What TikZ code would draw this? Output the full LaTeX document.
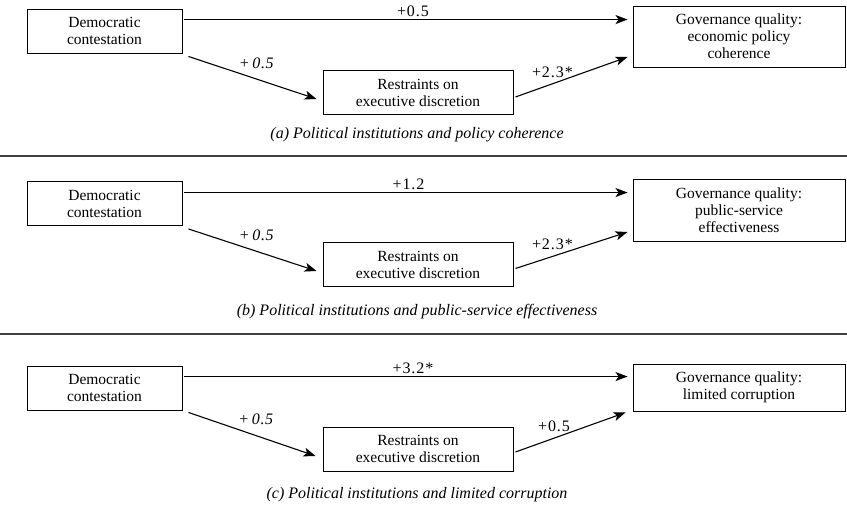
\documentclass[tikz,border=0pt]{standalone}
\usepackage{fontspec}
\setmainfont{Liberation Serif}
\usetikzlibrary{arrows.meta,calc}
\tikzset{
  box/.style={rectangle,draw=black,line width=0.9pt,align=center,inner sep=2pt,
    font=\fontsize{15.5}{17}\selectfont},
  demobox/.style={box,minimum width=155pt,minimum height=44pt},
  restrbox/.style={box,minimum width=190pt,minimum height=44pt},
  govbox/.style={box,minimum width=212pt,minimum height=62pt},
  arrow/.style={-{Stealth[length=12pt,width=9pt,inset=3pt]},draw=black,line width=1.1pt},
  coef/.style={font=\fontsize{16}{18}\selectfont\addfontfeature{LetterSpace=6},inner sep=1pt},
  coefit/.style={font=\fontsize{16}{18}\selectfont\itshape\addfontfeature{LetterSpace=4},inner sep=1pt},
  caption/.style={font=\fontsize{16}{18}\selectfont\itshape},
  rule/.style={draw=black!75,line width=1.3pt},
}

\begin{document}
\begin{tikzpicture}[x=1pt,y=-1pt]

\useasboundingbox (0,0) rectangle (847,505);

% (a) policy coherence
\node[demobox] (da) at (104.5,31) {Democratic\\contestation};
\node[restrbox] (ra) at (418,92.5) {Restraints on\\executive discretion};
\node[govbox,minimum height=61pt] (ga) at (739,36.5) {Governance quality:\\economic policy\\coherence};

\coordinate (ta) at ($(da.north east)+(2,11)$);
\draw[arrow,shorten >=5pt] (ta) -- node[coef,above=1.5pt,pos=0.51] {+0.5} (ta -| ga.west);
\draw[arrow] ($(da.south east)+(6,3)$) -- node[coefit,above=9pt,pos=0.53] {+\,0.5} ($(ra.west)+(-6,6.5)$);
\draw[arrow] ($(ra.east)+(2,4.5)$) -- node[coef,above=5pt,pos=0.33] {+2.3*} ($(ga.west)+(-5,20.5)$);

\node[caption] (capa) at (417,135) {(a) Political institutions and policy coherence};
\draw[rule] (0,156) -- (847,156);

% (b) public-service effectiveness
\node[demobox] (db) at (104.5,203.5) {Democratic\\contestation};
\node[restrbox] (rb) at (418,264.5) {Restraints on\\executive discretion};
\node[govbox] (gb) at (739,210.5) {Governance quality:\\public-service\\effectiveness};

\coordinate (tb) at ($(db.north east)+(2,11.5)$);
\draw[arrow,shorten >=5pt] (tb) -- node[coef,above=1.5pt,pos=0.5] {+1.2} (tb -| gb.west);
\draw[arrow] ($(db.south east)+(6,3)$) -- node[coefit,above=9pt,pos=0.53] {+\,0.5} ($(rb.west)+(-6,6.5)$);
\draw[arrow] ($(rb.east)+(2,4)$) -- node[coef,above=5pt,pos=0.33] {+2.3*} ($(gb.west)+(-5,21.5)$);

\node[caption] (capb) at (417,312) {(b) Political institutions and public-service effectiveness};
\draw[rule] (0,334) -- (847,334);

% (c) limited corruption
\node[demobox] (dc) at (104.5,388) {Democratic\\contestation};
\node[restrbox] (rc) at (418,449) {Restraints on\\executive discretion};
\node[govbox,minimum height=47pt] (gc) at (739,387.5) {Governance quality:\\limited corruption};

\coordinate (tc) at ($(dc.north east)+(2,11)$);
\draw[arrow,shorten >=5pt] (tc) -- node[coef,above=1.5pt,pos=0.51] {+3.2*} (tc -| gc.west);
\draw[arrow] ($(dc.south east)+(6,2)$) -- node[coefit,above=9pt,pos=0.53] {+\,0.5} ($(rc.west)+(-7,7)$);
\draw[arrow] ($(rc.east)+(2,3)$) -- node[coef,above=5pt,pos=0.35] {+0.5} ($(gc.west)+(-7,25)$);

\node[caption] (capc) at (417,495) {(c) Political institutions and limited corruption};

\end{tikzpicture}
\end{document}
